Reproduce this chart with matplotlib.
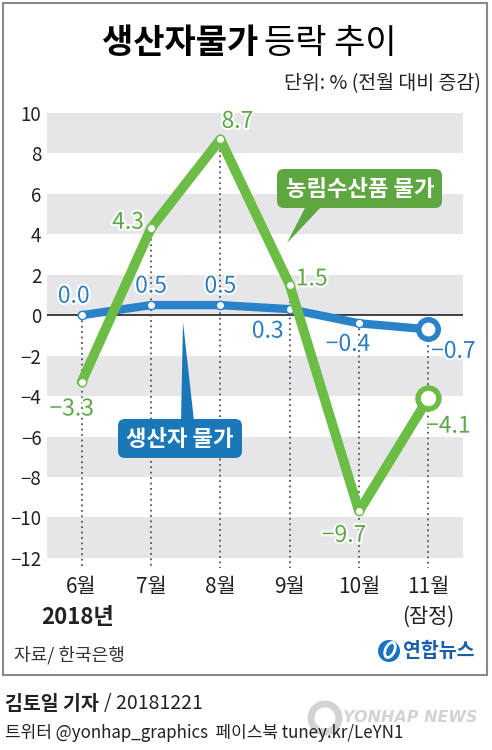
import matplotlib
matplotlib.use('Agg')
import matplotlib.pyplot as plt
import matplotlib.patheffects as pe
from matplotlib.patches import FancyBboxPatch, Polygon, Rectangle, Circle, Ellipse

plt.rcParams['font.family'] = ['Noto Sans CJK KR', 'DejaVu Sans']

# 데이터
months = ['6월', '7월', '8월', '9월', '10월', '11월']
producer = [0.0, 0.5, 0.5, 0.3, -0.4, -0.7]        # 생산자 물가
agri = [-3.3, 4.3, 8.7, 1.5, -9.7, -4.1]            # 농림수산품 물가
yticks = list(range(-12, 11, 2))

# 라벨 위치 (픽셀 오프셋)
agri_off = [(-10, -27), (-23, 6), (17, 18), (22, 6), (-15, -24), (20, -28)]
prod_off = [(-8, 19), (0, 19), (0, 19), (-22, -22), (-11, -21), (25, -22)]

GREEN = '#6cbd45'
GREEN_T = '#5aa845'
GREEN_BOX = '#5ea640'
BLUE = '#2a83c8'
BLUE_T = '#2a7cc0'
BLUE_BOX = '#1a78b8'


def fmt(v):
    return f'{v:.1f}'.replace('-', '−')


fig = plt.figure(figsize=(4.92, 7.5), dpi=100)

# 배경용 축 (픽셀 좌표)
bg = fig.add_axes([0, 0, 1, 1])
bg.set_xlim(0, 492)
bg.set_ylim(750, 0)
bg.axis('off')

bg.add_patch(Rectangle((3, 3), 484, 672, fill=False, edgecolor='#8a8a8a', lw=1.5))

bg.text(258, 43, '생산자물가', fontsize=24.5, fontweight='bold', ha='right', va='center')
bg.text(264, 43, '등락 추이', fontsize=24.5, ha='left', va='center')
bg.text(481, 84, '단위: % (전월 대비 증감)', fontsize=14, ha='right', va='center', color='#222222')

# 차트 축
ax = fig.add_axes([47 / 492, (750 - 568) / 750, 416 / 492, 455 / 750])
ax.set_xlim(-0.5, 5.5)
ax.set_ylim(-12.5, 10)
for s in ax.spines.values():
    s.set_visible(False)
ax.set_facecolor('none')

for lo in [8, 4, 0, -4, -8, -12]:
    ax.axhspan(lo, lo + 2, color='#e6e6e8', zorder=0, lw=0)
ax.axhline(0, color='#222222', lw=1.2, zorder=1)

ax.set_yticks(yticks)
ax.set_yticklabels([str(t).replace('-', '−') for t in yticks], fontsize=13.5, color='#222222')
ax.set_xticks(range(len(months)))
ax.set_xticklabels(months, fontsize=15, color='#222222')
ax.tick_params(length=0, pad=4)
ax.tick_params(axis='x', pad=6)

x = list(range(len(months)))
for i in x:
    top = max(producer[i], agri[i])
    ax.plot([i, i], [top, -12.5], ls=(0, (1, 2)), color='#555555', lw=1.3, zorder=1)

ax.plot(x, producer, color=BLUE, lw=6, solid_capstyle='round', zorder=3)
ax.plot(x[:-1], producer[:-1], 'o', ms=6, mfc='white', mec=BLUE, mew=1, zorder=4)
ax.plot(x[-1], producer[-1], 'o', ms=14, mfc='white', mec=BLUE, mew=4, zorder=4)

ax.plot(x, agri, color=GREEN, lw=7, solid_capstyle='round', zorder=5)
ax.plot(x[:-1], agri[:-1], 'o', ms=6, mfc='white', mec=GREEN, mew=1, zorder=6)
ax.plot(x[-1], agri[-1], 'o', ms=15, mfc='white', mec=GREEN, mew=4, zorder=6)

halo = [pe.withStroke(linewidth=3, foreground='white')]
for i, v in enumerate(agri):
    ax.annotate(fmt(v), (i, v), xytext=agri_off[i], textcoords='offset pixels',
                ha='center', va='center', fontsize=16.5, color=GREEN_T,
                path_effects=halo, zorder=7, annotation_clip=False)
for i, v in enumerate(producer):
    ax.annotate(fmt(v), (i, v), xytext=prod_off[i], textcoords='offset pixels',
                ha='center', va='center', fontsize=16.5, color=BLUE_T,
                path_effects=halo, zorder=7, annotation_clip=False)

ax.annotate('2018년', (0, 0), xycoords=('data', 'axes fraction'), xytext=(-4, -49),
            textcoords='offset pixels', ha='center', va='center', fontsize=16,
            fontweight='bold', color='#222222', annotation_clip=False)
ax.annotate('(잠정)', (5, 0), xycoords=('data', 'axes fraction'), xytext=(0, -49),
            textcoords='offset pixels', ha='center', va='center', fontsize=15,
            color='#222222', annotation_clip=False)

# 말풍선 (배경 축 위에 그림)
top = fig.add_axes([0, 0, 1, 1])
top.set_xlim(0, 492)
top.set_ylim(750, 0)
top.axis('off')
top.patch.set_alpha(0)

top.add_patch(FancyBboxPatch((277, 169), 165, 39, boxstyle='round,pad=0,rounding_size=7',
                             fc=GREEN_BOX, ec='none'))
top.add_patch(Polygon([(306, 206), (322, 206), (287, 243)], closed=True, fc=GREEN_BOX, ec='none'))
top.text(360, 189, '농림수산품 물가', fontsize=16, fontweight='bold', color='white',
         ha='center', va='center')

top.add_patch(FancyBboxPatch((118, 419), 124, 39, boxstyle='round,pad=0,rounding_size=7',
                             fc=BLUE_BOX, ec='none'))
top.add_patch(Polygon([(181, 421), (194, 421), (183, 322)], closed=True, fc=BLUE_BOX, ec='none'))
top.text(180, 439, '생산자 물가', fontsize=16, fontweight='bold', color='white',
         ha='center', va='center')

# 하단 문구
top.text(14, 655, '자료/ 한국은행', fontsize=13, color='#333333', ha='left', va='center')
top.add_patch(Circle((389, 651), 11, fc='#1a73c2', ec='none'))
top.add_patch(Ellipse((390, 650), 9, 16, angle=25, fill=False, ec='white', lw=2))
top.text(403, 651, '연합뉴스', fontsize=14, fontweight='bold', color='#1a5ea8',
         ha='left', va='center')

top.add_patch(Circle((325, 718), 14, fc='none', ec='#c8c8c8', lw=5, alpha=0.8))
top.text(343, 718, 'YONHAP NEWS', fontsize=11.5, fontweight='bold', style='italic',
         color='#cfcfcf', ha='left', va='center', family='DejaVu Sans', alpha=0.9)

top.text(5, 704, '김토일 기자', fontsize=14, fontweight='bold', color='#222222',
         ha='left', va='center')
top.text(104, 704, '/ 20181221', fontsize=14, color='#222222', ha='left', va='center')
top.text(5, 733, '트위터 @yonhap_graphics  페이스북 tuney.kr/LeYN1', fontsize=12.2,
         color='#222222', ha='left', va='center')

fig.savefig('out.png', dpi=100)
